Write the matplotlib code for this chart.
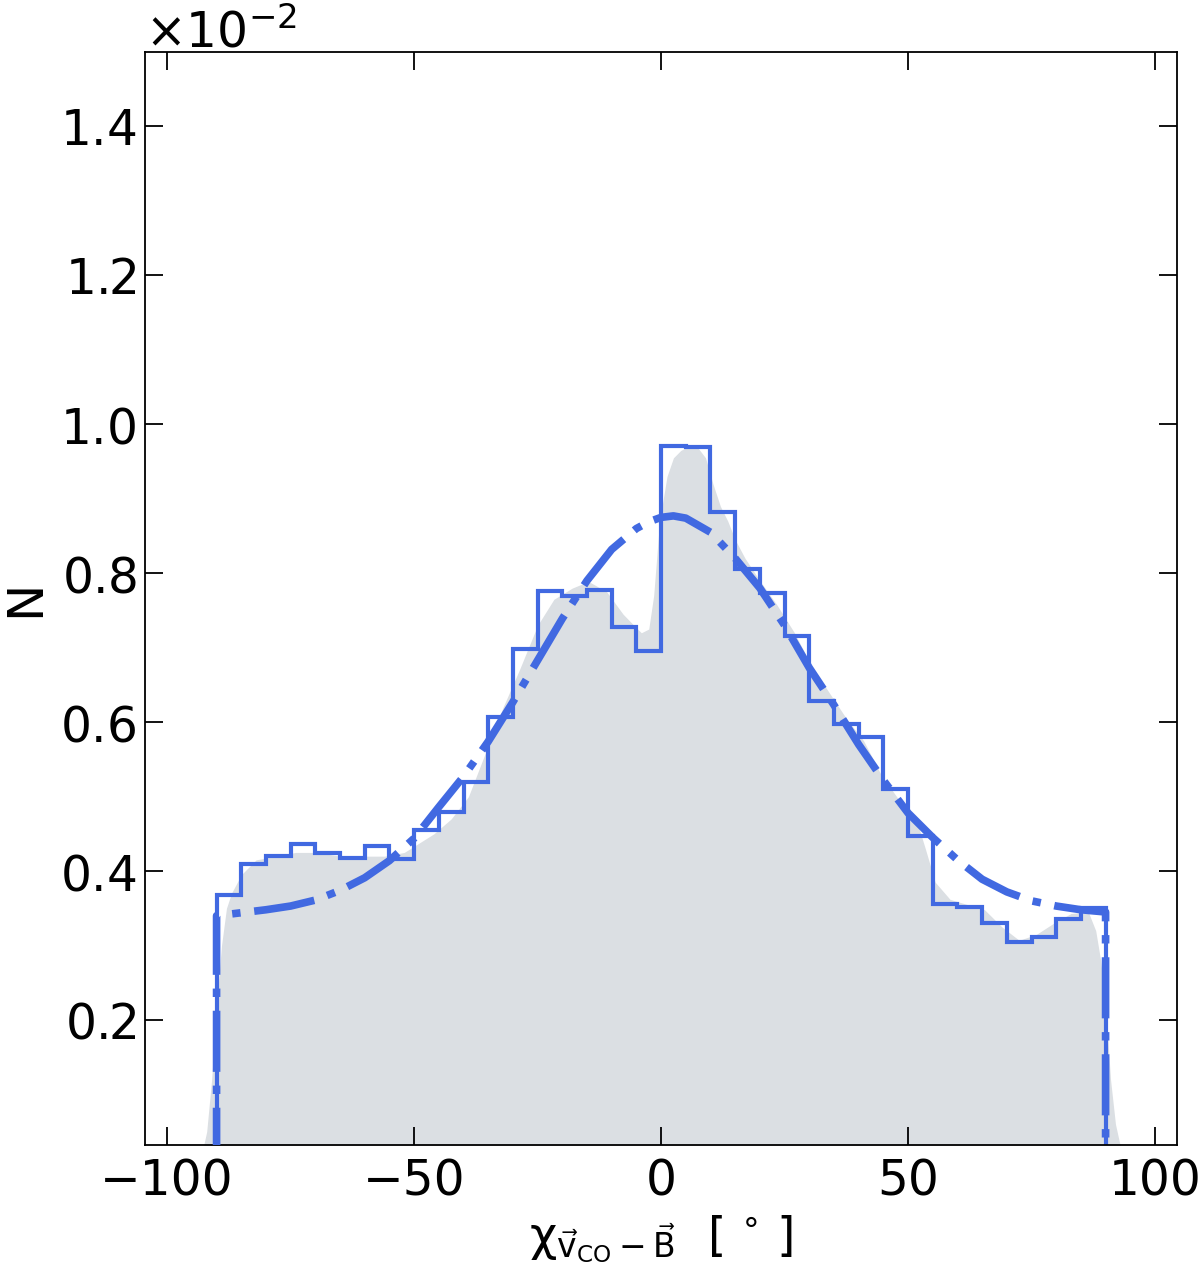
import matplotlib
matplotlib.use('Agg')
import matplotlib.pyplot as plt
import numpy as np
from matplotlib.ticker import MultipleLocator

# Values in units of 1e-2 (normalised counts).
bin_edges = np.arange(-90, 91, 5)
hist_vals = [0.368, 0.409, 0.420, 0.436, 0.424, 0.417, 0.434, 0.416, 0.455,
             0.479, 0.519, 0.607, 0.698, 0.776, 0.769, 0.778, 0.728, 0.696,
             0.971, 0.970, 0.882, 0.805, 0.774, 0.716, 0.628, 0.598, 0.580,
             0.510, 0.447, 0.356, 0.352, 0.330, 0.305, 0.312, 0.335, 0.350]

# Smoothed density (grey area).
kde_x = [-96, -93, -92, -91, -90, -89, -88, -87, -85, -82, -78, -74, -70, -65,
         -60, -56, -52, -49.6, -46, -42.5, -39, -35.5, -32, -28.7, -25, -21.7,
         -18, -14.7, -11, -7.7, -5.5, -4, -2.5, -1.5, -0.3, 1.2, 2.5, 4, 5.5,
         7.5, 9, 10.5, 12, 13.5, 15, 17, 20, 23.5, 27, 30.5, 34, 37.5, 41, 44.5,
         48, 51.5, 53.5, 55.5, 58.5, 62, 65.5, 69, 72.5, 76, 79.5, 83, 86.5, 88,
         89, 90, 91, 92, 93, 96]
kde_y = [0.0, 0.02, 0.05, 0.12, 0.22, 0.30, 0.35, 0.37, 0.395, 0.415, 0.42,
         0.425, 0.425, 0.42, 0.42, 0.42, 0.425, 0.435, 0.45, 0.47, 0.50, 0.56,
         0.62, 0.67, 0.73, 0.765, 0.78, 0.789, 0.775, 0.745, 0.73, 0.72, 0.725,
         0.77, 0.87, 0.93, 0.955, 0.965, 0.97, 0.968, 0.955, 0.92, 0.89, 0.87,
         0.845, 0.82, 0.79, 0.757, 0.72, 0.675, 0.64, 0.605, 0.575, 0.53, 0.497,
         0.473, 0.43, 0.385, 0.362, 0.355, 0.348, 0.325, 0.307, 0.315, 0.33,
         0.343, 0.345, 0.32, 0.28, 0.22, 0.12, 0.06, 0.03, 0.0]

# Fitted model (dash-dot), drops to zero outside [-90, 90].
fit_x = [-90, -90, -85, -80, -75, -70, -65, -60, -55, -50, -45, -40, -35, -30,
         -25, -20, -15, -10, -5, -2.5, 0, 2.5, 5, 10, 15, 20, 25, 30, 35, 40,
         45, 50, 55, 60, 65, 70, 75, 80, 85, 90, 90]
fit_y = [0.0, 0.340, 0.344, 0.348, 0.353, 0.361, 0.374, 0.391, 0.414, 0.444,
         0.486, 0.527, 0.574, 0.627, 0.683, 0.739, 0.790, 0.832, 0.860, 0.869,
         0.875, 0.877, 0.874, 0.855, 0.820, 0.780, 0.730, 0.673, 0.623, 0.570,
         0.522, 0.478, 0.445, 0.415, 0.389, 0.372, 0.360, 0.353, 0.348, 0.345,
         0.0]

scale = 1e-2
blue = 'royalblue'

plt.rcParams['mathtext.fontset'] = 'dejavusans'
plt.rcParams['mathtext.default'] = 'regular'

fig = plt.figure(figsize=(12, 12.63), dpi=100)
ax = fig.add_axes([0.1208, 0.0934, 0.8602, 0.8654])

ax.fill_between(kde_x, np.array(kde_y) * scale, color='#dbdfe3', lw=0, zorder=1)
ax.stairs(np.array(hist_vals) * scale, bin_edges, color=blue, lw=3, zorder=2)
ax.plot(fit_x, np.array(fit_y) * scale, color=blue, lw=5.5,
        dashes=(8, 1.8, 1.1, 1.8), zorder=3)

ax.set_xlim(-104.5, 104.5)
ax.set_ylim(0.00032, 0.015)
ax.xaxis.set_major_locator(MultipleLocator(50))
ax.yaxis.set_major_locator(MultipleLocator(0.002))
ax.ticklabel_format(style='sci', axis='y', scilimits=(0, 0), useMathText=True)
ax.yaxis.get_offset_text().set_fontsize(35)

ax.tick_params(direction='in', top=True, right=True, length=13, width=1.3,
               labelsize=35, pad=6)
ax.tick_params(axis='x', pad=9)
for s in ax.spines.values():
    s.set_linewidth(1.3)

ax.set_xlabel(r'$\chi_{\vec{v}_{CO}-\vec{B}}\ \ [\,^\circ\,]$', fontsize=34,
              labelpad=6)
ax.set_ylabel('N', fontsize=36, labelpad=8)

fig.savefig('out.png', dpi=100)
